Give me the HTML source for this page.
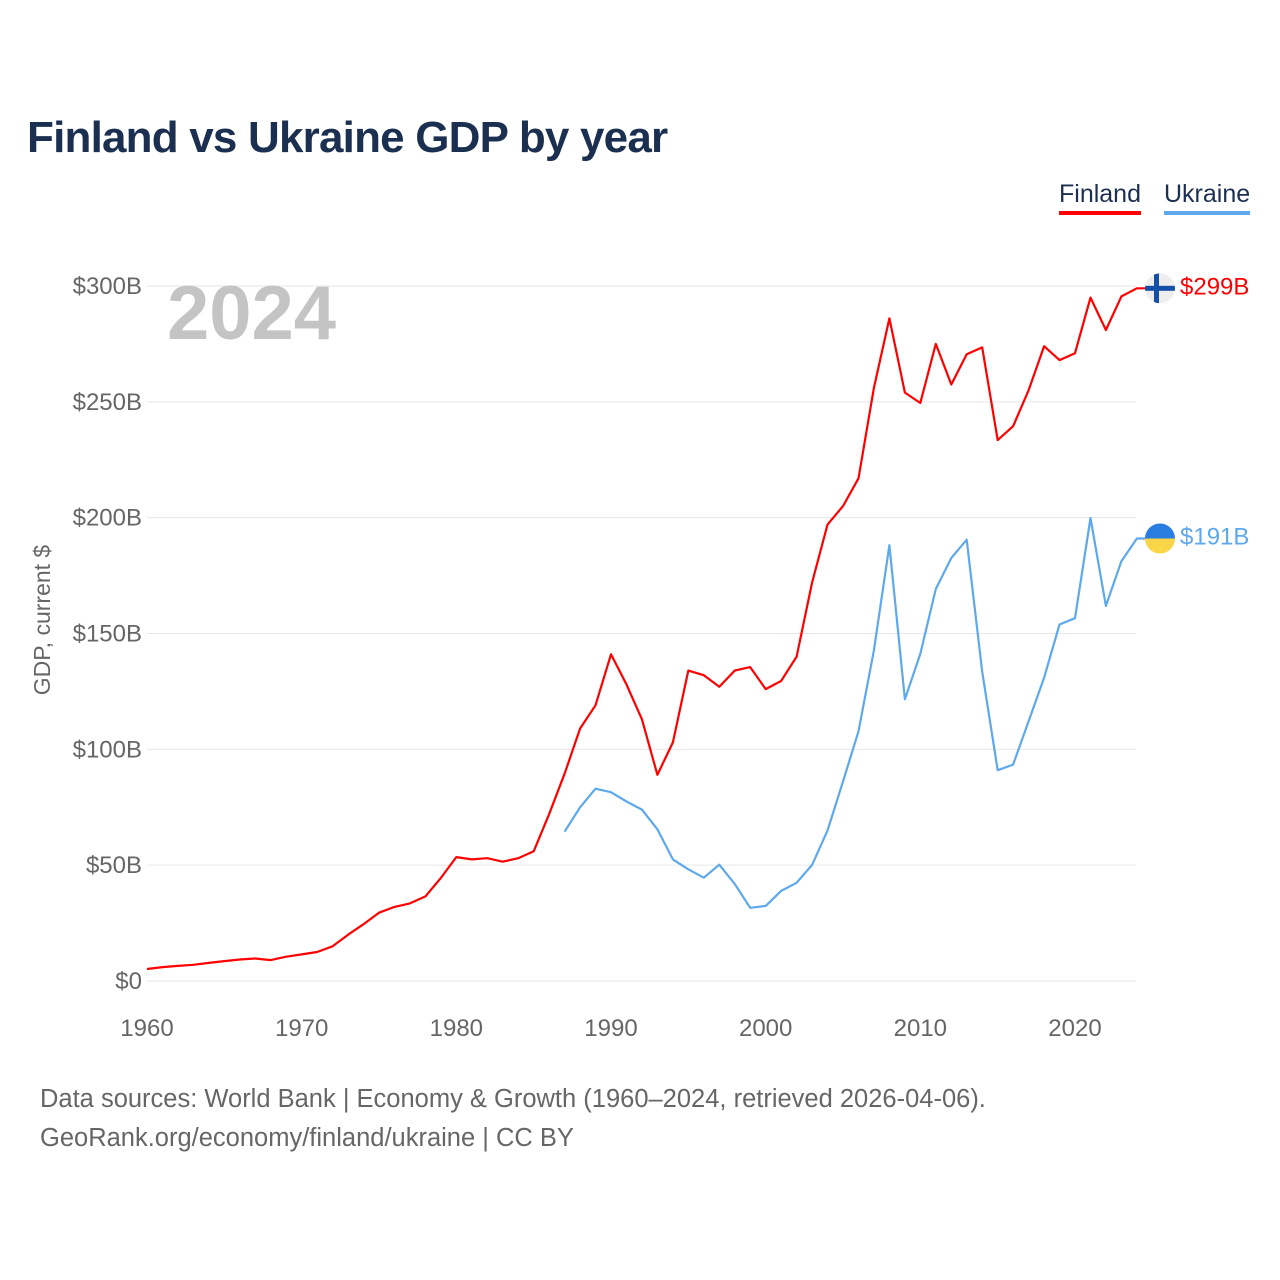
<!DOCTYPE html>
<html><head><meta charset="utf-8">
<style>
html,body{margin:0;padding:0;background:#fff;}
body{width:1280px;height:1280px;position:relative;font-family:"Liberation Sans",sans-serif;overflow:hidden;}
#title{position:absolute;left:27px;top:113px;font-size:44px;font-weight:bold;color:#1b2f50;margin:0;letter-spacing:-0.8px;}
.legend{position:absolute;top:180px;font-size:25px;color:#1b2f50;padding-bottom:2px;}
#foot{position:absolute;left:40px;top:1080px;font-size:25.5px;color:#666;line-height:39px;}
</style></head><body>
<h1 id="title">Finland vs Ukraine GDP by year</h1>
<div class="legend" style="left:1059px;border-bottom:4px solid #ff0000;">Finland</div>
<div class="legend" style="left:1164px;border-bottom:4px solid #5ea8ec;">Ukraine</div>
<svg id="chart" width="1280" height="1280" style="position:absolute;left:0;top:0"></svg>
<div id="foot">Data sources: World Bank | Economy &amp; Growth (1960–2024, retrieved 2026-04-06).<br>GeoRank.org/economy/finland/ukraine | CC BY</div>
<script>
const yTicks=[0,50,100,150,200,250,300];
const yTickLabels=["$0","$50B","$100B","$150B","$200B","$250B","$300B"];
const xTicks=[1960,1970,1980,1990,2000,2010,2020];
const finlandStart=1960;
const finland=[5.2,6,6.5,7,7.8,8.6,9.3,9.7,9,10.5,11.5,12.5,15,20,24.5,29.5,32,33.5,36.5,44.5,53.5,52.5,53,51.5,53,56,72,89.5,109,119,141,128,113,89,103,134,132,127,134,135.5,126,129.5,140,172,197,205,217,256,286,254,249.5,275,257.5,270.5,273.5,233.5,239.5,255,274,268,271,295,281,295.5,299];
const ukraineStart=1987;
const ukraine=[64.5,75,83,81.5,77.5,74,65.5,52.5,48.2,44.6,50.2,41.9,31.6,32.4,38.9,42.4,50.1,64.9,86.1,107.8,142.7,188.1,121.6,141.2,169.2,182.6,190.5,133.5,91,93.4,112.1,130.9,153.9,156.6,199.8,161.9,181.2,191];
const endLabels=["$299B","$191B"];

const NS="http://www.w3.org/2000/svg";
const svg=document.getElementById('chart');
const X=y=>147+(y-1960)*(928/60);
const Y=v=>981-v*(695/300);
function mk(t,a,p){const e=document.createElementNS(NS,t);for(const k in a)e.setAttribute(k,a[k]);(p||svg).appendChild(e);return e;}

yTicks.forEach((v,i)=>{
  const g=mk('line',{x1:147,x2:1136,y1:Y(v),y2:Y(v),stroke:'#e6e6e6','stroke-width':1});
  
  
  const t=mk('text',{x:142,y:Y(v)+8,'text-anchor':'end','font-size':24,fill:'#666'});
  t.textContent=yTickLabels[i];
  
  
});
xTicks.forEach(v=>{
  const t=mk('text',{x:X(v),y:1036,'text-anchor':'middle','font-size':24,fill:'#666'});
  t.textContent=v;
  
  
});
const yt=mk('text',{x:0,y:0,'text-anchor':'middle','font-size':23,fill:'#666',transform:'translate(50,620) rotate(-90)'});
yt.textContent='GDP, current $';


const yr=mk('text',{x:167,y:339,'font-size':76,'font-weight':'bold',fill:'#c4c4c4'});
yr.textContent='2024';



function series(arr,start,color,name){
  const pts=arr.map((v,i)=>X(start+i).toFixed(1)+','+Y(v).toFixed(1));
  const last=arr[arr.length-1];
  pts.push('1150,'+Y(last).toFixed(1));
  const p=mk('polyline',{points:pts.join(' '),fill:'none',stroke:color,'stroke-width':2.2,'stroke-linejoin':'round'});
  
  
  return Y(last);
}
const fy=series(finland,finlandStart,'#ff0000','finland');
const uy=series(ukraine,ukraineStart,'#5ea8ec','ukraine');

const cp=mk('clipPath',{id:'c1'});mk('circle',{cx:1160,cy:fy,r:15},cp);
const cp2=mk('clipPath',{id:'c2'});mk('circle',{cx:1160,cy:uy,r:15},cp2);
const f1=mk('g',{'clip-path':'url(#c1)'});


mk('rect',{x:1145,y:fy-15,width:30,height:30,fill:'#eeeeee'},f1);
mk('rect',{x:1145,y:fy-2.5,width:30,height:5,fill:'#1450a8'},f1);
mk('rect',{x:1154,y:fy-15,width:5,height:30,fill:'#1450a8'},f1);
const f2=mk('g',{'clip-path':'url(#c2)'});


mk('rect',{x:1145,y:uy-15,width:30,height:15,fill:'#2a7de0'},f2);
mk('rect',{x:1145,y:uy,width:30,height:15,fill:'#f8d647'},f2);

[[fy,'#ff0000',endLabels[0],'finland-end-label'],[uy,'#5ea8ec',endLabels[1],'ukraine-end-label']].forEach(d=>{
  const t=mk('text',{x:1180,y:d[0]+6,'font-size':24,fill:d[1]});
  t.textContent=d[2];
  
  
});
</script>
</body></html>
